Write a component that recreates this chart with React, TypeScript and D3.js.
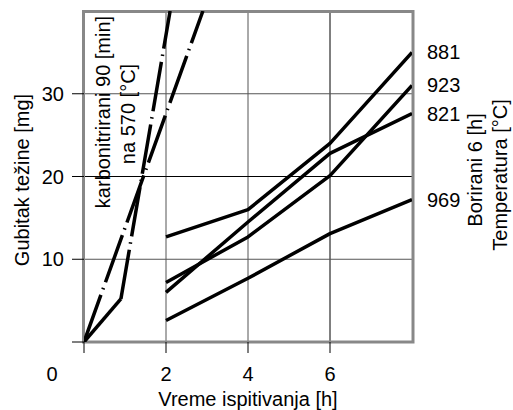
import React, { useEffect, useRef } from 'react';
import * as d3 from 'd3';

// boriding curves: weight loss [mg] at test hours
const hours = [2, 4, 6, 8];
const boron881 = [12.7, 16.0, 24.0, 35.0];
const boron923 = [7.2, 12.7, 20.1, 31.0];
const boron821 = [6.0, 14.5, 22.8, 27.6];
const boron969 = [2.6, 7.7, 13.1, 17.2];
const boronSeries = [
    { temp: '881', values: boron881 },
    { temp: '923', values: boron923 },
    { temp: '821', values: boron821 },
    { temp: '969', values: boron969 },
];

// carbonitrided curves (dash-dot)
const carboAHead: [number, number][] = [[0, 0], [0.9, 5.2]];
const carboATail: [number, number][] = [[0.9, 5.2], [2.1, 40]];
const carboB: [number, number][] = [[0, 0], [2.9, 40]];

const xTicks = [0, 2, 4, 6];
const xTickLabels = ['2', '4', '6'];
const yTicks = [0, 10, 20, 30];
const yTickLabels = ['10', '20', '30'];

const FONT = 'Liberation Sans, Arial, sans-serif';

export default function App() {
    const ref = useRef<SVGSVGElement>(null);

    useEffect(() => {
        const svg = d3.select(ref.current);
        svg.selectAll('*').remove();

        const x = d3.scaleLinear().domain([0, 8]).range([84, 412]);
        const y = d3.scaleLinear().domain([0, 40]).range([342, 11]);

        svg.append('defs').append('clipPath').attr('id', 'plot')
            .append('rect')
            .attr('x', x(0)).attr('y', y(40))
            .attr('width', x(8) - x(0)).attr('height', y(0) - y(40));

        // grid lines
        const gridColor = (v: number) => (v === 6 || v === 20 ? '#000' : '#555');
        svg.append('g').selectAll('line')
            .data([2, 4, 6]).enter().append('line')
            .attr('x1', d => x(d)).attr('x2', d => x(d))
            .attr('y1', y(40)).attr('y2', y(0))
            .attr('stroke', gridColor).attr('stroke-width', 1);
        svg.append('g').selectAll('line')
            .data([10, 20, 30]).enter().append('line')
            .attr('x1', x(0)).attr('x2', x(8))
            .attr('y1', d => y(d)).attr('y2', d => y(d))
            .attr('stroke', gridColor).attr('stroke-width', 1);

        // frame
        svg.append('rect')
            .attr('x', x(0) - 0.5).attr('y', y(40) + 0.5)
            .attr('width', x(8) - x(0) + 1.5).attr('height', y(0) - y(40) - 0.5)
            .attr('fill', 'none').attr('stroke', '#888').attr('stroke-width', 3);

        // ticks
        svg.append('g').selectAll('line')
            .data(xTicks).enter().append('line')
            .attr('x1', d => x(d)).attr('x2', d => x(d))
            .attr('y1', y(0)).attr('y2', y(0) + 11)
            .attr('stroke', '#000');
        svg.append('g').selectAll('line')
            .data(yTicks).enter().append('line')
            .attr('x1', x(0) - 12).attr('x2', x(0))
            .attr('y1', d => y(d)).attr('y2', d => y(d))
            .attr('stroke', '#000');

        const text = (sel: any) => sel
            .attr('font-family', FONT).attr('font-size', 20).attr('fill', '#000');

        svg.append('g').selectAll('text')
            .data(xTickLabels).enter().append('text')
            .call(text)
            .attr('x', d => x(+d)).attr('y', 381)
            .attr('text-anchor', 'middle')
            .text(d => d);
        svg.append('text').call(text)
            .attr('x', 52).attr('y', 381)
            .attr('text-anchor', 'middle').text('0');
        svg.append('g').selectAll('text')
            .data(yTickLabels).enter().append('text')
            .call(text)
            .attr('x', 64).attr('y', d => y(+d) + 7)
            .attr('text-anchor', 'end')
            .text(d => d);

        // axis titles
        svg.append('text').call(text)
            .attr('x', 248).attr('y', 406)
            .attr('text-anchor', 'middle')
            .text('Vreme ispitivanja [h]');
        svg.append('text').call(text)
            .attr('transform', 'translate(29, 180) rotate(-90)')
            .attr('text-anchor', 'middle')
            .text('Gubitak težine [mg]');
        svg.append('text').call(text)
            .attr('transform', 'translate(110, 112) rotate(-90)')
            .attr('text-anchor', 'middle')
            .text('karbonitrirani 90 [min]');
        svg.append('text').call(text)
            .attr('transform', 'translate(135, 114) rotate(-90)')
            .attr('text-anchor', 'middle')
            .text('na 570 [°C]');
        svg.append('text').call(text)
            .attr('transform', 'translate(482, 170) rotate(-90)')
            .attr('text-anchor', 'middle')
            .text('Borirani 6 [h]');
        svg.append('text').call(text)
            .attr('transform', 'translate(507, 175) rotate(-90)')
            .attr('text-anchor', 'middle')
            .text('Temperatura [°C]');

        // data lines
        const plot = svg.append('g').attr('clip-path', 'url(#plot)');
        const line = d3.line<[number, number]>()
            .x(d => x(d[0])).y(d => y(d[1]));

        boronSeries.forEach(s => {
            const pts = hours.map((h, i) => [h, s.values[i]] as [number, number]);
            plot.append('path')
                .attr('d', line(pts))
                .attr('fill', 'none').attr('stroke', '#000')
                .attr('stroke-width', 3.5).attr('stroke-linejoin', 'round');
        });

        plot.append('path')
            .attr('d', line(carboAHead))
            .attr('fill', 'none').attr('stroke', '#000').attr('stroke-width', 3.5);
        [carboATail, carboB].forEach(pts => {
            plot.append('path')
                .attr('d', line(pts))
                .attr('fill', 'none').attr('stroke', '#000').attr('stroke-width', 3.5)
                .attr('stroke-dasharray', '50 6 1.5 6');
        });

        // temperature labels at line ends
        svg.append('g').selectAll('text')
            .data(boronSeries).enter().append('text')
            .call(text)
            .attr('x', x(8) + 15).attr('y', d => y(d.values[d.values.length - 1]) + 7)
            .text(d => d.temp);
    }, []);

    return (
        <svg ref={ref} width={513} height={410}
            style={{ position: 'absolute', left: 0, top: 0, background: '#fff' }} />
    );
}
